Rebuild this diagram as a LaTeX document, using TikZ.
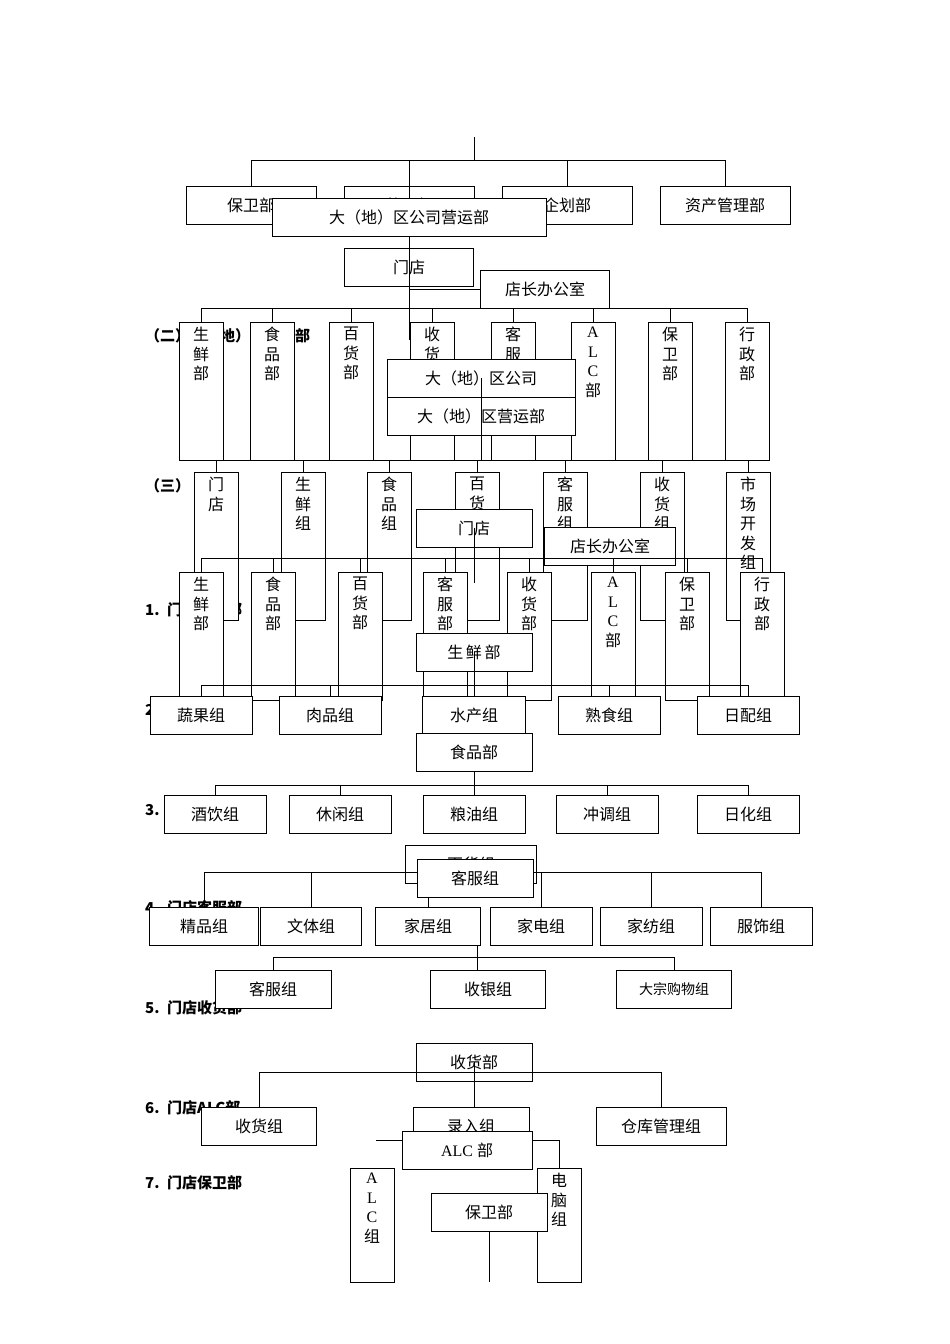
\documentclass[tikz,border=0pt]{standalone}
\usepackage{fontspec}
\setmainfont{Liberation Serif}
\newfontfamily\cjk{Noto Sans CJK SC}
\usetikzlibrary{positioning}
\begin{document}
\begin{tikzpicture}[x=1pt,y=-1pt,
        box/.style={rectangle, draw, fill=white, line width=0.8pt, minimum height=38pt, inner sep=1pt, font=\cjk\fontsize{16}{18}\selectfont},
        tall/.style={rectangle, draw, fill=white, line width=0.8pt, minimum width=44pt, anchor=north},
        vtext/.style={anchor=north, yshift=-4pt, align=center, inner sep=1pt, font=\cjk\fontsize{16}{19.5}\selectfont},
        head/.style={anchor=west, inner sep=0pt, font=\cjk\bfseries\fontsize{15}{17}\selectfont},
        line/.style={line width=0.8pt}
    ]
    \useasboundingbox (0,0) rectangle (950,1344);

    % Headings (mostly covered by the charts)
    \node[head] (h2) at (145,336) {（二）大（地）区营运部};
    \node[head] (h3) at (145,486) {（三）};
    \node[head] (s1) at (145,610) {1.\enspace 门店生鲜部};
    \node[head] (s2) at (145,710) {2.\enspace 门店食品部};
    \node[head] (s3) at (145,810) {3.\enspace 门店百货部};
    \node[head] (s4) at (145,908) {4.\enspace 门店客服部};
    \node[head] (s5) at (145,1008) {5.\enspace 门店收货部};
    \node[head] (s6) at (145,1108) {6.\enspace 门店ALC部};
    \node[head] (s7) at (145,1183) {7.\enspace 门店保卫部};

    % Company departments
    \node[box, minimum width=130] (bw1) at (251,205) {保卫部};
    \node[box, minimum width=130] (yy1) at (409,205) {营运部};
    \node[box, minimum width=130] (qh1) at (567,205) {企划部};
    \node[box, minimum width=130] (zc1) at (725,205) {资产管理部};
    \coordinate (top1) at (474,137);
    \coordinate (bus1) at (474,160);
    \draw[line] (top1) -- (bus1);
    \draw[line] (bw1.north) -- (bw1.north |- bus1) -- (zc1.north |- bus1) -- (zc1.north);
    \foreach \n in {yy1,qh1} \draw[line] (\n.north) -- (\n.north |- bus1);
    \draw[line] (yy1.north) -- (yy1.center);

    % Regional operations
    \node[box, minimum width=274] (dq) at (409,217) {大（地）区公司营运部};
    \node[box, minimum width=129] (md1) at (409,267) {门店};
    \node[box, minimum width=129] (dz1) at (545,289) {店长办公室};
    \coordinate (md1e) at (409,340);
    \coordinate (bus2) at (474,308);
    \draw[line] (dq.south) -- (md1.north);
    \draw[line] (md1.north) -- (md1e);
    \draw[line] (md1.south |- dz1.west) -- (dz1.west);
    \foreach \n/\x/\t in {sx2/201/{生\\鲜\\部}, sp2/272/{食\\品\\部}, bh2/351/{百\\货\\部}, sh2/432/{收\\货\\部},
                          kf2/513/{客\\服\\部}, alc2/593/{{\rmfamily A}\\{\rmfamily L}\\{\rmfamily C}\\部},
                          bw2/670/{保\\卫\\部}, xz2/747/{行\\政\\部}}
        \node[tall, minimum height=138, label={[vtext]north:\t}] (\n) at (\x,322) {};
    \draw[line] (sx2.north |- bus2) -- (xz2.north |- bus2);
    \foreach \n in {sx2,sp2,bh2,sh2,kf2,alc2,bw2,xz2} \draw[line] (\n.north) -- (\n.north |- bus2);
    \node[box, minimum width=188] (dgs) at (481,378) {大（地）区公司};
    \node[box, minimum width=188, below=0pt of dgs] (dyy) {大（地）区营运部};

    % Store organisation
    \coordinate (bus3) at (481,460);
    \draw[line] (dgs.center) -- (bus3);
    \foreach \n/\x/\t in {md3/216/{门\\店}, sx3/303/{生\\鲜\\组}, sp3/389/{食\\品\\组}, bh3/477/{百\\货\\组},
                          kf3/565/{客\\服\\组}, sh3/662/{收\\货\\组}, sc3/748/{市\\场\\开\\发\\组}}
        \node[tall, minimum height=148, label={[vtext]north:\t}] (\n) at (\x,472) {};
    \draw[line] (md3.north |- bus3) -- (sc3.north |- bus3);
    \foreach \n in {md3,sx3,sp3,bh3,kf3,sh3,sc3} \draw[line] (\n.north) -- (\n.north |- bus3);
    \node[box, minimum width=116] (md4) at (474,528) {门店};
    \node[box, minimum width=131] (dz4) at (610,546) {店长办公室};
    \coordinate (md4e) at (474,583);
    \coordinate (bus4) at (474,558);
    \draw[line] (md4.center) -- (md4e);
    \foreach \n/\x/\t in {sx4/201/{生\\鲜\\部}, sp4/273/{食\\品\\部}, bh4/360/{百\\货\\部}, kf4/445/{客\\服\\部},
                          sh4/529/{收\\货\\部}, alc4/613/{{\rmfamily A}\\{\rmfamily L}\\{\rmfamily C}\\部},
                          bw4/687/{保\\卫\\部}, xz4/762/{行\\政\\部}}
        \node[tall, minimum height=128, label={[vtext]north:\t}] (\n) at (\x,572) {};
    \draw[line] (sx4.north |- bus4) -- (xz4.north |- bus4);
    \foreach \n in {sx4,sp4,bh4,kf4,sh4,alc4,bw4,xz4} \draw[line] (\n.north) -- (\n.north |- bus4);

    % 1. Fresh food
    \node[box, minimum width=116] (sx5) at (474,652) {生\,鲜\,部};
    \coordinate (bus5) at (474,685);
    \node[box, minimum width=102] (sg5) at (201,715) {蔬果组};
    \node[box, minimum width=102] (rp5) at (330,715) {肉品组};
    \node[box, minimum width=103] (sc5) at (474,715) {水产组};
    \node[box, minimum width=102] (ss5) at (609,715) {熟食组};
    \node[box, minimum width=102] (rpz5) at (748,715) {日配组};
    \draw[line] (sx5.center) -- (sc5.north);
    \draw[line] (sg5.north |- bus5) -- (rpz5.north |- bus5);
    \foreach \n in {sg5,rp5,ss5,rpz5} \draw[line] (\n.north) -- (\n.north |- bus5);

    % 2./3. Food
    \node[box, minimum width=116] (sp6) at (474,752) {食品部};
    \coordinate (bus6) at (474,785);
    \node[box, minimum width=102] (jy6) at (215,814) {酒饮组};
    \node[box, minimum width=102] (xx6) at (340,814) {休闲组};
    \node[box, minimum width=102] (ly6) at (474,814) {粮油组};
    \node[box, minimum width=102] (ct6) at (607,814) {冲调组};
    \node[box, minimum width=102] (rh6) at (748,814) {日化组};
    \draw[line] (sp6.south) -- (ly6.north);
    \draw[line] (jy6.north |- bus6) -- (rh6.north |- bus6);
    \foreach \n in {jy6,xx6,ct6,rh6} \draw[line] (\n.north) -- (\n.north |- bus6);

    % 4. Department store / customer service
    \node[box, minimum width=131] (bh7) at (471,864) {百货组};
    \node[box, minimum width=116] (kf7) at (475,878) {客服组};
    \coordinate (bus7) at (475,872);
    \node[box, minimum width=109] (jp7) at (204,926) {精品组};
    \node[box, minimum width=101] (wt7) at (311,926) {文体组};
    \node[box, minimum width=105] (jj7) at (428,926) {家居组};
    \node[box, minimum width=102] (jd7) at (541,926) {家电组};
    \node[box, minimum width=102] (jf7) at (651,926) {家纺组};
    \node[box, minimum width=102] (fs7) at (761,926) {服饰组};
    \draw[line] (jp7.north |- bus7) -- (kf7.west |- bus7);
    \draw[line] (kf7.east |- bus7) -- (fs7.north |- bus7);
    \foreach \n in {jp7,wt7,jd7,jf7,fs7} \draw[line] (\n.north) -- (\n.north |- bus7);
    \draw[line] (jj7.north) -- (jj7.north |- kf7.south);
    \coordinate (bus8) at (477,957);
    \node[box, minimum width=116] (kf8) at (273,989) {客服组};
    \node[box, minimum width=115] (sy8) at (488,989) {收银组};
    \node[box, minimum width=115, font=\cjk\fontsize{14}{16}\selectfont] (dz8) at (674,989) {大宗购物组};
    \draw[line] (bus8 |- jj7.south) -- (bus8 |- sy8.north);
    \draw[line] (kf8.north) -- (kf8.north |- bus8) -- (dz8.north |- bus8) -- (dz8.north);

    % 5. Receiving
    \node[box, minimum width=116] (sh9) at (474,1062) {收货部};
    \coordinate (bus9) at (474,1072);
    \node[box, minimum width=115] (shz9) at (259,1126) {收货组};
    \node[box, minimum width=116] (lr9) at (471,1126) {录入组};
    \node[box, minimum width=130] (ck9) at (661,1126) {仓库管理组};
    \draw[line] (sh9.center) -- (sh9.center |- lr9.north);
    \draw[line] (shz9.north) -- (shz9.north |- bus9) -- (ck9.north |- bus9) -- (ck9.north);

    % 6./7. ALC and security
    \node[box, minimum width=130, font=\rmfamily\fontsize{16}{18}\selectfont] (alc10) at (467,1150) {ALC {\cjk 部}};
    \node[tall, minimum height=114, label={[vtext]north:{{\rmfamily A}\\{\rmfamily L}\\{\rmfamily C}\\组}}] (alcz10) at (372,1168) {};
    \node[tall, minimum height=114, label={[vtext]north:{电\\脑\\组}}] (dn10) at (559,1168) {};
    \coordinate (a10l) at (376,1140);
    \draw[line] (a10l) -- (alc10.west |- a10l);
    \draw[line] (alc10.east |- a10l) -| (dn10.north);
    \node[box, minimum width=116] (bw11) at (489,1212) {保卫部};
    \coordinate (bw11e) at (489,1282);
    \draw[line] (bw11.south) -- (bw11e);
\end{tikzpicture}
\end{document}
